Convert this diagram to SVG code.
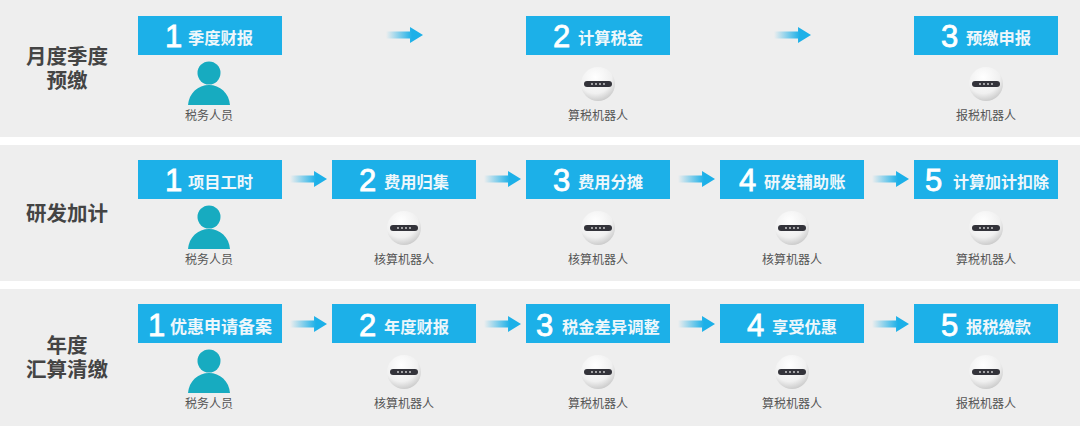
<svg xmlns="http://www.w3.org/2000/svg" width="1080" height="426" viewBox="0 0 1080 426">
<style>
text{font-family:"Noto Sans CJK SC","Liberation Sans",sans-serif}
.band{fill:#eeeeee}
.box{fill:#1cb0e8}
.num{font-family:"Liberation Sans",sans-serif;font-size:31px;fill:#fff;stroke:#fff;stroke-width:.8}
.t{font-size:16.3px;fill:#eef7fb;font-weight:700}
.cap{font-size:12px;fill:#555;text-anchor:middle}
.head{font-family:"Liberation Sans","Noto Sans CJK SC",sans-serif;font-size:20.5px;fill:#444;font-weight:700;text-anchor:middle}
.p{fill:#17abc0}
</style>
<defs>
<linearGradient id="ag" x1="0" x2="1" y1="0" y2="0"><stop offset="0" stop-color="#1cb0e8" stop-opacity="0"/><stop offset=".7" stop-color="#1cb0e8"/><stop offset="1" stop-color="#1cb0e8"/></linearGradient>
<radialGradient id="rg" cx=".42" cy=".3" r=".8"><stop offset="0" stop-color="#ffffff"/><stop offset=".6" stop-color="#f0f0f0"/><stop offset="1" stop-color="#bdbdbd"/></radialGradient>
<g id="arrow"><path d="M0 -3.5H24V-8L37 0L24 8V3.5H0Z" fill="url(#ag)"/></g>
<g id="person"><circle cx="0" cy="-32" r="11.5" class="p"/><path d="M-21 0C-20 -12 -11 -20 0 -20C11 -20 20 -12 21 0Z" class="p"/></g>
<g id="robot"><circle r="17" fill="url(#rg)"/><rect x="-14" y="-3" width="28" height="6" rx="3" fill="#33333a"/><g fill="#d8d8d8"><circle cx="-6" r=".9"/><circle cx="-2" r=".9"/><circle cx="2" r=".9"/><circle cx="6" r=".9"/></g></g>
</defs>
<rect width="1080" height="426" fill="#ffffff"/>
<rect class="band" y="0" width="1080" height="137"/>
<rect class="band" y="145" width="1080" height="136"/>
<rect class="band" y="289" width="1080" height="137"/>
<g id="connectors">
<use href="#arrow" x="386" y="35"/><use href="#arrow" x="774" y="35"/>
<use href="#arrow" x="290" y="179"/><use href="#arrow" x="484" y="179"/><use href="#arrow" x="678" y="179"/><use href="#arrow" x="872" y="179"/>
<use href="#arrow" x="290" y="324"/><use href="#arrow" x="484" y="324"/><use href="#arrow" x="678" y="324"/><use href="#arrow" x="872" y="324"/>
</g>
<g id="head-1"><text class="head" x="67" y="64">月度季度</text><text class="head" x="67" y="88">预缴</text></g>
<g id="head-2"><text class="head" x="67" y="221">研发加计</text></g>
<g id="head-3"><text class="head" x="67" y="353">年度</text><text class="head" x="67" y="377">汇算清缴</text></g>
<g id="r1-1"><rect class="box" x="138" y="16" width="144" height="39"/><text class="num" x="165" y="47">1</text><text class="t" x="188" y="44">季度财报</text><use href="#person" x="209" y="105"/><text class="cap" x="209" y="120">税务人员</text></g>
<g id="r1-2"><rect class="box" x="526" y="16" width="144" height="39"/><text class="num" x="553" y="47">2</text><text class="t" x="578" y="44">计算税金</text><use href="#robot" x="598" y="84"/><text class="cap" x="598" y="120">算税机器人</text></g>
<g id="r1-3"><rect class="box" x="914" y="16" width="144" height="39"/><text class="num" x="941" y="47">3</text><text class="t" x="966" y="44">预缴申报</text><use href="#robot" x="986" y="84"/><text class="cap" x="986" y="120">报税机器人</text></g>
<g id="r2-1"><rect class="box" x="138" y="160" width="144" height="39"/><text class="num" x="165" y="191">1</text><text class="t" x="188" y="188">项目工时</text><use href="#person" x="209" y="249"/><text class="cap" x="209" y="264">税务人员</text></g>
<g id="r2-2"><rect class="box" x="332" y="160" width="144" height="39"/><text class="num" x="359" y="191">2</text><text class="t" x="384" y="188">费用归集</text><use href="#robot" x="404" y="228"/><text class="cap" x="404" y="264">核算机器人</text></g>
<g id="r2-3"><rect class="box" x="526" y="160" width="144" height="39"/><text class="num" x="553" y="191">3</text><text class="t" x="578" y="188">费用分摊</text><use href="#robot" x="598" y="228"/><text class="cap" x="598" y="264">核算机器人</text></g>
<g id="r2-4"><rect class="box" x="720" y="160" width="144" height="39"/><text class="num" x="739" y="191">4</text><text class="t" x="764" y="188">研发辅助账</text><use href="#robot" x="792" y="228"/><text class="cap" x="792" y="264">核算机器人</text></g>
<g id="r2-5"><rect class="box" x="914" y="160" width="144" height="39"/><text class="num" x="925" y="191">5</text><text class="t" x="953" y="188" style="font-size:16px">计算加计扣除</text><use href="#robot" x="986" y="228"/><text class="cap" x="986" y="264">算税机器人</text></g>
<g id="r3-1"><rect class="box" x="138" y="304" width="144" height="39"/><text class="num" x="148" y="336">1</text><text class="t" x="170" y="333" style="font-size:17px">优惠申请备案</text><use href="#person" x="209" y="393"/><text class="cap" x="209" y="408">税务人员</text></g>
<g id="r3-2"><rect class="box" x="332" y="304" width="144" height="39"/><text class="num" x="359" y="336">2</text><text class="t" x="384" y="333">年度财报</text><use href="#robot" x="404" y="372"/><text class="cap" x="404" y="408">核算机器人</text></g>
<g id="r3-3"><rect class="box" x="526" y="304" width="144" height="39"/><text class="num" x="536" y="336">3</text><text class="t" x="562" y="333">税金差异调整</text><use href="#robot" x="598" y="372"/><text class="cap" x="598" y="408">算税机器人</text></g>
<g id="r3-4"><rect class="box" x="720" y="304" width="144" height="39"/><text class="num" x="747" y="336">4</text><text class="t" x="772" y="333">享受优惠</text><use href="#robot" x="792" y="372"/><text class="cap" x="792" y="408">算税机器人</text></g>
<g id="r3-5"><rect class="box" x="914" y="304" width="144" height="39"/><text class="num" x="941" y="336">5</text><text class="t" x="966" y="333">报税缴款</text><use href="#robot" x="986" y="372"/><text class="cap" x="986" y="408">报税机器人</text></g>
</svg>
